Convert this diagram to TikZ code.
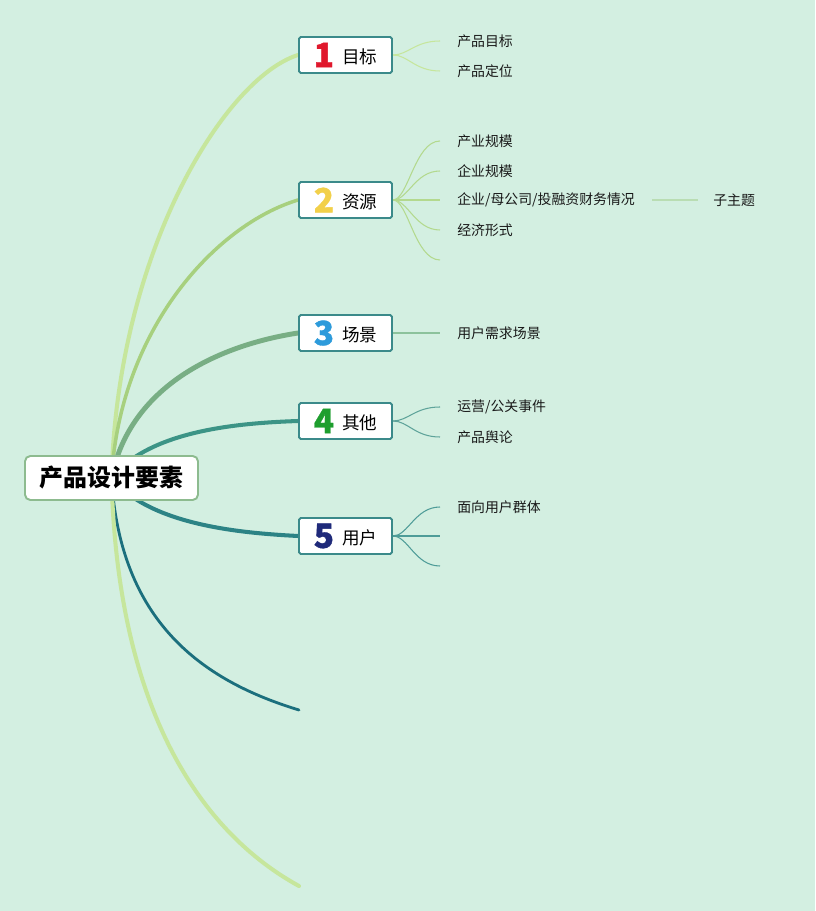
\documentclass[tikz,border=0pt]{standalone}
\usepackage{fontspec}
\setmainfont{Noto Sans CJK SC}
\newfontfamily\digitfont{Noto Sans CJK SC}[FakeBold=1]
\usepackage{tikz}
\usetikzlibrary{
	positioning,
	backgrounds
}

\definecolor{bgmint}{HTML}{D3EFE1}
\definecolor{rootline}{HTML}{8DBB8F}
\definecolor{topicline}{HTML}{3B8A8A}
\definecolor{branchA}{HTML}{C6E69C}
\definecolor{branchB}{HTML}{A7D07E}
\definecolor{branchC}{HTML}{78AE84}
\definecolor{branchD}{HTML}{3C9486}
\definecolor{branchE}{HTML}{2C8385}
\definecolor{branchF}{HTML}{1B6F7D}
\definecolor{twigA}{HTML}{C6E69C}
\definecolor{twigB}{HTML}{B3D98E}
\definecolor{twigC}{HTML}{8CC29C}
\definecolor{twigD}{HTML}{5EA39A}
\definecolor{twigE}{HTML}{4E9C98}
\definecolor{twigF}{HTML}{B9DDB3}
\definecolor{numA}{HTML}{E0182D}
\definecolor{numB}{HTML}{F2D04A}
\definecolor{numC}{HTML}{2D9BDB}
\definecolor{numD}{HTML}{1E9E2E}
\definecolor{numE}{HTML}{1F2A7A}

\newcommand{\topicnum}[2]{\raisebox{-0.07cm}{\digitfont\bfseries\fontsize{19}{20}\selectfont\color{#1}#2}\hspace{0.16cm}}

\begin{document}
\begin{tikzpicture}[
				x=0.02cm, y=-0.02cm,
				root/.style={draw=rootline, line width=1.1pt, fill=white, rounded corners=3pt, minimum width=3.46cm, minimum height=0.88cm, inner sep=0pt, font=\fontsize{13.6}{16}\selectfont\bfseries},
				topic/.style={draw=topicline, line width=1.1pt, fill=white, rounded corners=1pt, minimum width=1.86cm, minimum height=0.72cm, inner sep=0pt, font=\fontsize{10}{12}\selectfont},
				leaf/.style={anchor=west, inner xsep=0.34cm, inner ysep=0pt, text=black!90, font=\fontsize{7.9}{10}\selectfont},
				trunk/.style={line cap=round},
				twig/.style={line width=0.6pt}
			]
				% 背景
				\useasboundingbox (0,0) rectangle (815,911);
				% 中心主题
				\node[root] (root) at (111.5,478) {产品设计要素};
				% 分支主题
				\node[topic] (t1) at (345.5,55)  {\topicnum{numA}{1}目标};
				\node[topic] (t2) at (345.5,200) {\topicnum{numB}{2}资源};
				\node[topic] (t3) at (345.5,333) {\topicnum{numC}{3}场景};
				\node[topic] (t4) at (345.5,421) {\topicnum{numD}{4}其他};
				\node[topic] (t5) at (345.5,536) {\topicnum{numE}{5}用户};
				\coordinate (end6) at (299,710);
				\coordinate (end7) at (299,886);
				% 子主题
				\node[leaf] (c11) at (440,41)  {产品目标};
				\node[leaf] (c12) at (440,71)  {产品定位};
				\node[leaf] (c21) at (440,141) {产业规模};
				\node[leaf] (c22) at (440,171) {企业规模};
				\node[leaf] (c23) at (440,200) {企业/母公司/投融资财务情况};
				\node[leaf] (c24) at (440,230) {经济形式};
				\coordinate (c25) at (440,260);
				\node[leaf, inner xsep=0.3cm] (c231) at (698,200) {子主题};
				\node[leaf] (c31) at (440,333) {用户需求场景};
				\node[leaf] (c41) at (440,407) {运营/公关事件};
				\node[leaf] (c42) at (440,437) {产品舆论};
				\node[leaf] (c51) at (440,507) {面向用户群体};
				\coordinate (c52) at (440,536);
				\coordinate (c53) at (440,566);
				% 连线
				\begin{pgfonlayer}{background}
				\fill[bgmint] (0,0) rectangle (815,911);
				\draw[trunk, branchA, line width=2.3pt] (root.center) .. controls (118,250) and (225,78) .. (t1.west);
				\draw[trunk, branchB, line width=2pt]   (root.center) .. controls (120,330) and (215,225) .. (t2.west);
				\draw[trunk, branchC, line width=2.8pt] (root.center) .. controls (130,385) and (220,345) .. (t3.west);
				\draw[trunk, branchD, line width=2.3pt] (root.center) .. controls (150,430) and (240,423) .. (t4.west);
				\draw[trunk, branchE, line width=2.3pt] (root.center) .. controls (150,525) and (240,533) .. (t5.west);
				\draw[trunk, branchF, line width=1.6pt] (root.center) .. controls (120,620) and (200,680) .. (end6);
				\draw[trunk, branchA, line width=2.3pt] (root.center) .. controls (118,730) and (215,840) .. (end7);
				\draw[twig, twigA] (t1.east) .. controls +(15,0) and +(-25,0) .. (c11.west);
				\draw[twig, twigA] (t1.east) .. controls +(15,0) and +(-25,0) .. (c12.west);
				\draw[twig, twigB] (t2.east) .. controls +(15,0) and +(-25,0) .. (c21.west);
				\draw[twig, twigB] (t2.east) .. controls +(15,0) and +(-25,0) .. (c22.west);
				\draw[twig, twigB] (t2.east) -- (c23.west);
				\draw[twig, twigB] (t2.east) .. controls +(15,0) and +(-25,0) .. (c24.west);
				\draw[twig, twigB] (t2.east) .. controls +(15,0) and +(-25,0) .. (c25);
				\draw[twig, twigF, line width=1.2pt] (c23.east) -- (c231.west);
				\draw[twig, twigC] (t3.east) -- (c31.west);
				\draw[twig, twigD] (t4.east) .. controls +(15,0) and +(-25,0) .. (c41.west);
				\draw[twig, twigD] (t4.east) .. controls +(15,0) and +(-25,0) .. (c42.west);
				\draw[twig, twigE] (t5.east) .. controls +(15,0) and +(-25,0) .. (c51.west);
				\draw[twig, twigE] (t5.east) -- (c52);
				\draw[twig, twigE] (t5.east) .. controls +(15,0) and +(-25,0) .. (c53);
				\end{pgfonlayer}
			\end{tikzpicture}
\end{document}
